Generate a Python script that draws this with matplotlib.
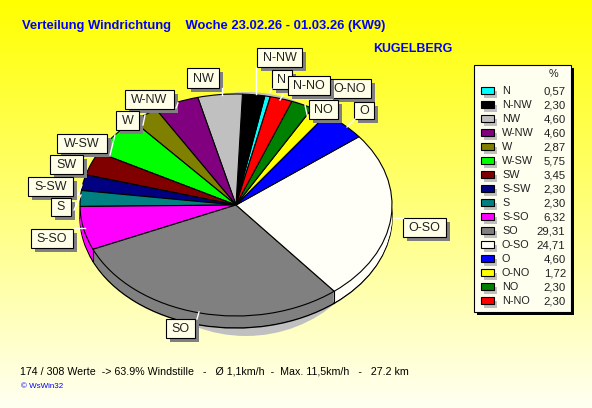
import numpy as np
import matplotlib
matplotlib.use('Agg')
import matplotlib.pyplot as plt
from matplotlib.patches import Rectangle, Ellipse

# Legendenreihenfolge, gegen den Uhrzeigersinn im Kuchen
names = ['N', 'N-NW', 'NW', 'W-NW', 'W', 'W-SW', 'SW', 'S-SW', 'S', 'S-SO', 'SO', 'O-SO', 'O', 'O-NO', 'NO', 'N-NO']
values = [0.57, 2.30, 4.60, 4.60, 2.87, 5.75, 3.45, 2.30, 2.30, 6.32, 29.31, 24.71, 4.60, 1.72, 2.30, 2.30]
value_text = ['0,57', '2,30', '4,60', '4,60', '2,87', '5,75', '3,45', '2,30', '2,30', '6,32', '29,31', '24,71', '4,60',
              '1,72', '2,30', '2,30']
colors = ['#00FFFF', '#000000', '#C0C0C0', '#800080', '#808000', '#00FF00', '#800000', '#000080', '#008080', '#FF00FF',
          '#808080', '#FFFFF8', '#0000FF', '#FFFF00', '#008000', '#FF0000']

title = 'Verteilung Windrichtung    Woche 23.02.26 - 01.03.26 (KW9)'
station = 'KUGELBERG'
footer = '174 / 308 Werte  -> 63.9% Windstille   -   Ø 1,1km/h  -  Max. 11,5km/h   -   27.2 km'
credit = '© WsWin32'

W, H = 592, 408
cx, cy, rx, ry = 236, 205, 156, 111  # Kuchen in Pixeln
depth = 12
start = 77.3

plt.rcParams['font.family'] = ['Liberation Sans', 'DejaVu Sans']
fig = plt.figure(figsize=(W / 100, H / 100), dpi=100)

# Hintergrund
bg = fig.add_axes([0, 0, 1, 1])
grad = np.linspace(0, 1, 256)
img = np.ones((256, 1, 3))
img[:, 0, 2] = 0.95 * grad
bg.imshow(img, aspect='auto', extent=(0, W, H, 0))
bg.axis('off')

# Schatten
bg.add_patch(Ellipse((246, 214), 262, 244, color='#C0C0C0', lw=0))

# Kuchen
ax = fig.add_axes([0, 0, 1, 1])
ax.patch.set_alpha(0)
for d in range(depth, 0, -1):
    edge = {'linewidth': 1, 'edgecolor': 'black'} if d == depth else {'linewidth': 0}
    ax.pie(values, colors=colors, startangle=start, center=(0, -d / ry), radius=1, wedgeprops=edge)
ax.pie(values, colors=colors, startangle=start, center=(0, 0), radius=1,
       wedgeprops={'linewidth': 0.8, 'edgecolor': 'black'})
ax.set_aspect('auto')
ax.set_xlim(-cx / rx, (W - cx) / rx)
ax.set_ylim((cy - H) / ry, cy / ry)
ax.axis('off')

# Kanten an der Vorderseite
angles = np.radians(start + np.cumsum(values) * 3.6)
for a in angles:
    if np.sin(a) < -0.05:
        ax.plot([np.cos(a)] * 2, [np.sin(a), np.sin(a) - depth / ry], color='black', lw=0.8)

# Beschriftung in Pixeln
top = fig.add_axes([0, 0, 1, 1])
top.set_xlim(0, W)
top.set_ylim(H, 0)
top.patch.set_alpha(0)
top.axis('off')

leaders = [((222, 88), (222, 95)), ((256, 67), (256, 94)), ((178, 103), (176, 108)), ((145, 115), (143, 125)),
           ((115, 135), (110, 155)), ((78, 195), (82, 185)), ((74, 210), (81, 195)), ((73, 228), (85, 228)),
           ((393, 218), (403, 218)), ((199, 312), (197, 319)), ((347, 127), (355, 119)), ((283, 95), (280, 100)),
           ((270, 92), (272, 89)), ((305, 105), (308, 119))]
for p, q in leaders:
    top.plot([p[0], q[0]], [p[1], q[1]], color='white', lw=1)

boxes = {'NW': (187, 68, 219, 88), 'W-NW': (125, 90, 174, 109), 'W': (116, 111, 139, 130),
         'W-SW': (57, 134, 107, 153), 'SW': (50, 155, 83, 174), 'S-SW': (28, 177, 73, 196),
         'S': (51, 198, 71, 216), 'S-SO': (31, 229, 73, 248), 'O-SO': (403, 218, 446, 237),
         'SO': (166, 319, 195, 338), 'N-NW': (257, 48, 302, 67), 'N': (272, 70, 292, 89),
         'O-NO': (329, 79, 371, 98), 'N-NO': (288, 76, 330, 95), 'NO': (309, 100, 338, 119),
         'O': (354, 102, 374, 119)}
for name, (x0, y0, x1, y1) in boxes.items():
    top.add_patch(Rectangle((x0 + 4, y0 + 4), x1 - x0, y1 - y0, color='#808080', lw=0))
    top.add_patch(Rectangle((x0, y0), x1 - x0, y1 - y0, fc='#FFFFE8', ec='black', lw=0.8))
    top.text((x0 + x1) / 2, (y0 + y1) / 2 + 0.5, name, ha='center', va='center', fontsize=9, color='#202020')

top.text(22, 26, title, fontsize=9.35, fontweight='bold', color='#0000FF', va='center')
top.text(373, 49, station, fontsize=8.9, fontweight='bold', color='#0000FF', va='center')
top.text(20, 371, footer, fontsize=7.65, color='black', va='center')
top.text(21, 387, credit, fontsize=5.8, color='#0000FF', va='center')

# Legende
top.add_patch(Rectangle((477, 68), 97, 247, color='black', lw=0))
top.add_patch(Rectangle((474, 65), 97, 247, fc='#FFFFF0', ec='black', lw=0.8))
top.text(553, 74, '%', fontsize=7.8, ha='center', va='center', color='#202020')
for i, name in enumerate(names):
    y = 91 + 14 * i
    top.add_patch(Rectangle((484, y), 13, 7, color='#C0C0C0', lw=0))
    top.add_patch(Rectangle((481, y - 4), 13, 7, fc=colors[i], ec='black', lw=0.8))
    top.text(502, y, name, fontsize=7.8, va='center', color='#202020')
    top.text(566 if len(value_text[i]) < 5 else 565, y, value_text[i], fontsize=8.2, ha='right', va='center',
             color='#202020')

fig.savefig('out.png', dpi=100)
